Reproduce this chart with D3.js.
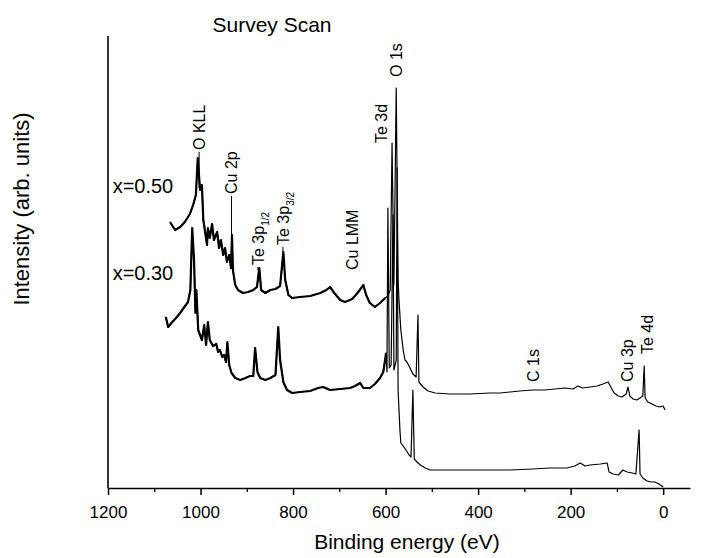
<!DOCTYPE html>
<html>
<head>
<meta charset="utf-8">
<script src="https://cdn.jsdelivr.net/npm/d3@7"></script>
<style>
  body { margin: 0; background: #fff; }
  text { font-family: "Liberation Sans", Arial, sans-serif; fill: #000; }
</style>
</head>
<body>
<div id="chart"></div>
<script>
// x = 0.50 spectrum (upper trace), binding energy in eV / intensity in arb. units
const energyHigh = [1066,1055,1044,1034,1023,1016,1010,1006,1001,997,
  994,990,986,984,980,975,971,964,960,956,
  951,947,943,938,934,932,930,925,919,908,
  897,886,878,873,869,860,849,838,828,821,
  817,810,802,785,763,741,728,720,711,698,
  688,672,659,648,642,634,623,612,601,595,
  590,586,582,577,573,571,567,562,558,554,
  547,541,534,530,528,519,508,493,461,418,
  374,353,331,310,282,256,234,212,195,184,
  174,158,143,130,119,112,106,97,89,80,
  76,72,65,57,50,44,41,39,33,24,
  16,7,0,-4];
const intensityHigh = [266,258,261,266,274,283,293,330,298,303,
  268,256,243,260,250,264,248,256,240,248,
  233,240,226,233,220,253,218,203,198,195,
  196,198,201,220,198,195,198,199,202,236,
  208,193,190,191,192,195,198,201,195,188,
  186,189,196,203,193,185,181,185,190,192,
  198,345,203,400,208,188,158,138,128,126,
  120,114,111,173,106,101,97,95,94,94,
  95,95,96,97,98,98,99,100,99,102,
  100,101,102,104,106,100,95,92,91,94,
  101,92,89,88,90,92,122,90,86,84,
  82,81,82,78];

// x = 0.30 spectrum (lower trace)
const energyLow = [1075,1070,1061,1053,1044,1035,1027,1022,1018,1014,
  1011,1009,1005,1001,997,992,988,984,980,973,
  966,962,958,953,949,945,942,938,933,925,
  914,903,893,886,882,877,871,860,849,838,
  832,828,821,813,802,785,763,746,735,720,
  698,677,666,655,648,634,623,612,605,601,
  599,597,595,592,588,584,582,577,575,573,
  571,569,567,562,556,549,545,541,538,532,
  525,514,504,461,418,374,331,282,245,208,
  191,179,169,158,136,121,117,108,97,87,
  78,67,59,52,50,44,35,26,18,9,
  0];
const intensityLow = [171,161,166,170,175,181,186,198,260,228,
  175,198,158,153,148,163,143,166,148,142,
  144,136,138,131,133,126,146,123,115,110,
  108,110,112,112,140,116,110,108,110,113,
  161,128,106,98,95,96,97,100,101,98,
  99,100,102,105,100,100,104,110,116,128,
  135,116,280,120,123,273,118,128,320,98,
  78,58,45,42,38,33,31,98,29,26,
  23,20,18,18,18,18,18,19,20,20,
  22,25,22,23,24,25,16,14,13,18,
  16,15,14,58,14,10,7,6,6,4,
  1];

// peak labels: text, energy, intensity at label foot, leader end (null = none), subscript
const peakNames = ["O KLL", "Cu 2p", "Te 3p", "Te 3p", "Cu LMM", "Te 3d", "O 1s", "C 1s", "Cu 3p", "Te 4d"];
const peakSubs = ["", "", "1/2", "3/2", "", "", "", "", "", ""];
const peakEnergy = [1003, 933, 876, 822, 673, 610, 576, 281, 78, 35];
const peakLabelLevel = [338, 294, 223, 243, 218, 345, 411, 106, 106, 134];
const peakLeaderEnd = [300, 253, 218, 236, null, null, null, null, null, null];

const sampleNames = ["x=0.50", "x=0.30"];
const sampleLevel = [295, 208];

const xTicks = [1200, 1000, 800, 600, 400, 200, 0];
const xMinorTicks = [1100, 900, 700, 500, 300, 100];

const W = 703, H = 558;
const margin = {top: 36, right: 13, bottom: 70, left: 108};

const svg = d3.select("#chart").append("svg")
  .attr("width", W)
  .attr("height", H);

const x = d3.scaleLinear().domain([1200, -58]).range([margin.left, W - margin.right]);
const y = d3.scaleLinear().domain([0, 452]).range([H - margin.bottom, margin.top]);

// axes
svg.append("g")
  .attr("transform", `translate(0,${y(0)})`)
  .call(d3.axisBottom(x).tickValues(xMinorTicks).tickSize(4).tickFormat(""))
  .call(g => g.select(".domain").remove())
  .selectAll("line").attr("stroke-width", 1.3);

svg.append("g")
  .attr("transform", `translate(0,${y(0)})`)
  .call(d3.axisBottom(x).tickValues(xTicks).tickSize(7).tickSizeOuter(0).tickPadding(11).tickFormat(d3.format("d")))
  .call(g => g.select(".domain").attr("stroke-width", 1.5))
  .call(g => g.selectAll("line").attr("stroke-width", 1.5))
  .call(g => g.selectAll("text")
    .style("font-size", "17px")
    .style("font-family", "'Liberation Sans', Arial, sans-serif"));

svg.append("line")
  .attr("x1", x(1200)).attr("x2", x(1200))
  .attr("y1", y(0)).attr("y2", margin.top)
  .attr("stroke", "#000").attr("stroke-width", 1.6);

// axis titles
svg.append("text")
  .attr("x", (x(1200) + x(-58)) / 2 + 8)
  .attr("y", 549)
  .attr("text-anchor", "middle")
  .style("font-size", "21px")
  .text("Binding energy (eV)");

svg.append("text")
  .attr("transform", `translate(29,${209}) rotate(-90)`)
  .attr("text-anchor", "middle")
  .style("font-size", "22px")
  .text("Intensity (arb. units)");

svg.append("text")
  .attr("x", 272)
  .attr("y", 32)
  .attr("text-anchor", "middle")
  .style("font-size", "21px")
  .text("Survey Scan");

// spectra
const line = d3.line().x(d => x(d[0])).y(d => y(d[1]));
const series = [
  d3.zip(energyHigh, intensityHigh),
  d3.zip(energyLow, intensityLow)
];

series.forEach(pts => {
  svg.append("path")
    .datum(pts)
    .attr("fill", "none")
    .attr("stroke", "#000")
    .attr("stroke-width", 1.2)
    .attr("stroke-linejoin", "round")
    .attr("d", line);
  // the high-energy side is printed heavier in the scan
  svg.append("path")
    .datum(pts.filter(p => p[0] >= 598))
    .attr("fill", "none")
    .attr("stroke", "#000")
    .attr("stroke-width", 2.2)
    .attr("stroke-linejoin", "round")
    .attr("d", line);
});

// sample labels
sampleNames.forEach((name, i) => {
  svg.append("text")
    .attr("x", x(1190))
    .attr("y", y(sampleLevel[i]))
    .style("font-size", "20px")
    .text(name);
});

// peak labels
peakNames.forEach((name, i) => {
  const px = x(peakEnergy[i]), py = y(peakLabelLevel[i]);
  const t = svg.append("text")
    .attr("transform", `translate(${px},${py}) rotate(-90)`)
    .attr("dy", "0.36em")
    .style("font-size", "16px")
    .text(name);
  if (peakSubs[i]) {
    t.append("tspan")
      .attr("dy", "5")
      .style("font-size", "10px")
      .text(peakSubs[i]);
  }
  if (peakLeaderEnd[i] !== null) {
    svg.append("line")
      .attr("x1", px).attr("x2", px)
      .attr("y1", py + 2).attr("y2", y(peakLeaderEnd[i]))
      .attr("stroke", "#000").attr("stroke-width", 1);
  }
});
</script>
</body>
</html>
